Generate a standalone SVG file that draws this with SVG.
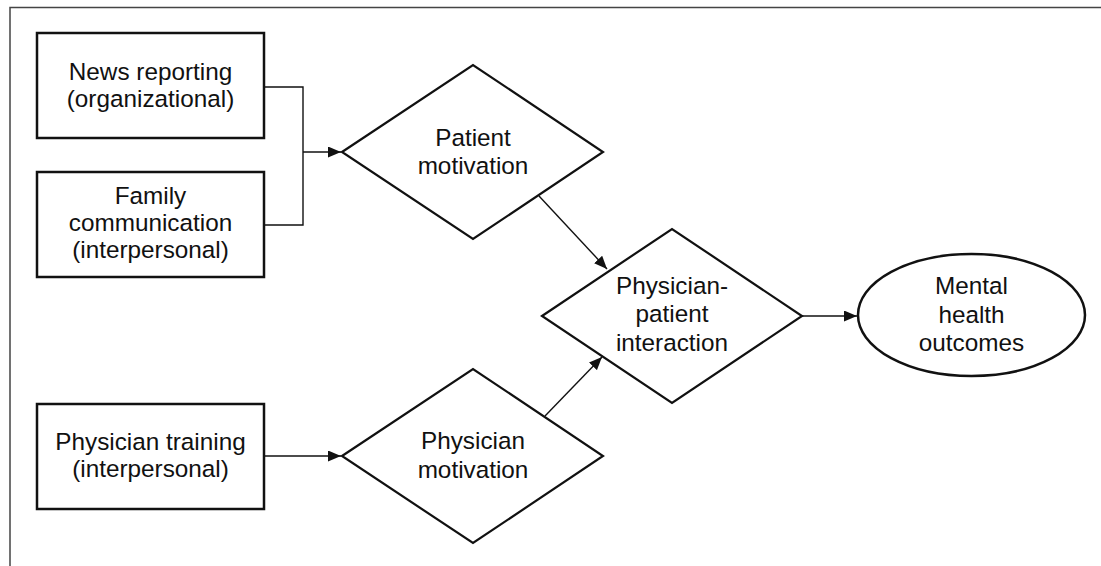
<svg xmlns="http://www.w3.org/2000/svg" width="1101" height="566" viewBox="0 0 1101 566">
<defs>
<style>
.box{fill:#fff;stroke:#111;stroke-width:2.5}
.dia{fill:#fff;stroke:#111;stroke-width:2.2}
.con{fill:none;stroke:#111;stroke-width:1.4}
text{font-family:"Liberation Sans",Arial,sans-serif;font-size:24.3px;fill:#111;text-anchor:middle}
</style>
<marker id="ah" markerWidth="13" markerHeight="11" refX="13" refY="5.5" orient="auto" markerUnits="userSpaceOnUse">
<path d="M0,0 L13,5.5 L0,11 Z" fill="#111"/>
</marker>
</defs>
<rect width="1101" height="566" fill="#fff"/>
<path d="M10,566 V7.5 H1101" fill="none" stroke="#444" stroke-width="1.5"/>
<g id="connectors">
<path class="con" d="M264,87 H303 V225 H264"/>
<path class="con" d="M303,152 H341" marker-end="url(#ah)"/>
<path class="con" d="M264,456 H341" marker-end="url(#ah)"/>
<path class="con" d="M539,196 L607,269" marker-end="url(#ah)"/>
<path class="con" d="M545,416 L602,357" marker-end="url(#ah)"/>
<path class="con" d="M802,316 H857" marker-end="url(#ah)"/>
</g>
<g id="news">
<rect class="box" x="37" y="33" width="227" height="105"/>
<text x="150.5" y="80">News reporting</text>
<text x="150.5" y="107">(organizational)</text>
</g>
<g id="family">
<rect class="box" x="37" y="172" width="227" height="105"/>
<text x="150.5" y="204">Family</text>
<text x="150.5" y="231">communication</text>
<text x="150.5" y="258">(interpersonal)</text>
</g>
<g id="training">
<rect class="box" x="37" y="404" width="227" height="105"/>
<text x="150.5" y="450">Physician training</text>
<text x="150.5" y="477">(interpersonal)</text>
</g>
<g id="patient-motivation">
<polygon class="dia" points="342,152 473,65 603,152 473,239"/>
<text x="473" y="146">Patient</text>
<text x="473" y="174">motivation</text>
</g>
<g id="physician-motivation">
<polygon class="dia" points="342,456 473,369 603,456 473,543"/>
<text x="473" y="449">Physician</text>
<text x="473" y="478">motivation</text>
</g>
<g id="interaction">
<polygon class="dia" points="542,316 672,229 802,316 672,403"/>
<text x="672" y="294">Physician-</text>
<text x="672" y="322">patient</text>
<text x="672" y="351">interaction</text>
</g>
<g id="outcomes">
<ellipse class="box" cx="971.5" cy="315" rx="113.5" ry="61" stroke-width="2.2"/>
<text x="971.5" y="294">Mental</text>
<text x="971.5" y="323">health</text>
<text x="971.5" y="351">outcomes</text>
</g>
</svg>
